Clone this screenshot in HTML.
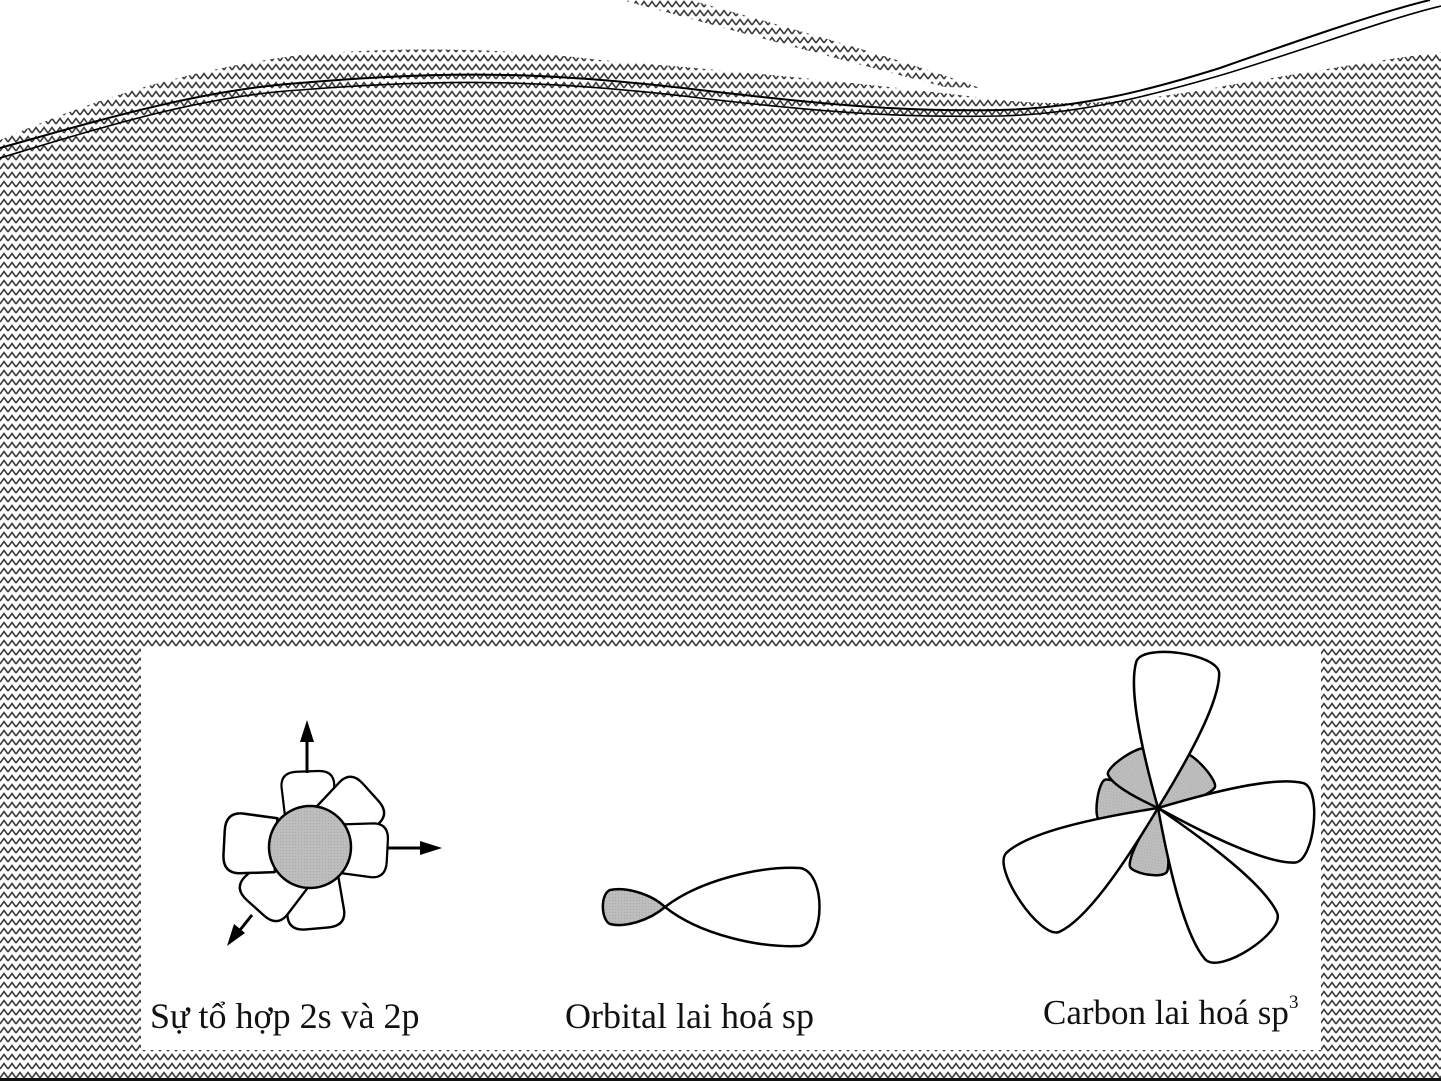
<!DOCTYPE html>
<html><head><meta charset="utf-8"><style>
html,body{margin:0;padding:0;background:#fff;}
svg{display:block}
text{font-family:"Liberation Serif",serif;fill:#111}
</style></head><body>
<svg width="1441" height="1081" viewBox="0 0 1441 1081" xmlns="http://www.w3.org/2000/svg">
<defs>
<pattern id="zz" width="8" height="9" patternUnits="userSpaceOnUse">
<path d="M0,7 L4,1.5 L8,7" fill="none" stroke="#3c3c3c" stroke-width="1.6"/>
</pattern>
<pattern id="dots" width="3" height="3" patternUnits="userSpaceOnUse">
<rect width="3" height="3" fill="#bdbdbd"/><rect width="1" height="1" fill="#a8a8a8"/>
</pattern>
<path id="pt" d="M34,-27 L70,-30 Q86,-30 86,-12 L86,12 Q86,30 70,30 L34,27 Z"/>
</defs>
<rect width="1441" height="1081" fill="#fff"/>
<path d="M0,140 C60,115 150,75 300,55 C420,45 520,50 600,60 C750,72 880,85 1000,100 C1080,108 1150,100 1230,85 C1320,70 1380,60 1441,52 L1441,1081 L0,1081 Z" fill="url(#zz)"/>
<path d="M622,0 L690,0 C760,20 880,52 980,88 L945,87 C860,65 760,38 622,0 Z" fill="url(#zz)"/>
<path d="M0,148 C100,120 200,90 300,83 C450,70 550,72 700,90 C820,104 900,112 1000,110 C1080,108 1150,90 1220,68 C1300,40 1380,12 1430,0" fill="none" stroke="#000" stroke-width="2"/>
<path d="M0,158 C100,128 200,96 300,90 C450,78 550,80 700,98 C820,112 900,118 1000,116 C1080,114 1150,96 1225,74 C1310,48 1390,18 1441,6" fill="none" stroke="#000" stroke-width="1.6"/>
<rect x="141" y="647" width="1180" height="403" fill="#fff"/>
<rect x="0" y="1078" width="1441" height="3" fill="#111"/>

<!-- flower -->
<g stroke="#000" stroke-width="2.5" fill="#fff" stroke-linejoin="round">
<g transform="translate(310,847)">
<use href="#pt" transform="rotate(-92) scale(0.88)"/>
<use href="#pt" transform="rotate(-42) scale(0.95)"/>
<use href="#pt" transform="rotate(3) scale(0.9)"/>
<use href="#pt" transform="rotate(85) scale(0.95)"/>
<use href="#pt" transform="rotate(132) scale(0.95)"/>
<use href="#pt" transform="rotate(183) scale(1.0)"/>
<circle r="41" fill="url(#dots)"/>
</g>
</g>
<g stroke="#000" stroke-width="3" fill="#000">
<line x1="307" y1="773" x2="307" y2="735"/>
<polygon points="307,720 300,742 314,742" stroke="none"/>
<line x1="387" y1="848" x2="425" y2="848"/>
<polygon points="442,848 420,841 420,855" stroke="none"/>
<line x1="252" y1="915" x2="236" y2="935"/>
<polygon points="227,946 234,924 245,933" stroke="none"/>
</g>

<!-- sp orbital -->
<g stroke="#000" stroke-width="2.5" stroke-linejoin="round">
<path d="M665,907 C650,893 625,887 610,890 C600,894 601,920 610,924 C625,928 650,920 665,907 Z" fill="url(#dots)"/>
<path d="M665,907 C700,880 760,866 800,868 C826,872 826,942 800,946 C760,948 700,935 665,907 Z" fill="#fff"/>
</g>

<!-- sp3 -->
<g stroke="#000" stroke-width="2.5" stroke-linejoin="round" transform="translate(1158,808)">
<g fill="url(#dots)">
<path transform="rotate(188)" d="M0,0 C21.7,-12.1 44.6,-23.1 55.8,-20.9 C63.2,-18.7 63.2,18.7 55.8,20.9 C44.6,23.1 21.7,12.1 0,0 Z"/>
<path transform="rotate(-124)" d="M0,0 C21.7,-13.2 44.6,-25.2 55.8,-22.8 C63.2,-20.4 63.2,20.4 55.8,22.8 C44.6,25.2 21.7,13.2 0,0 Z"/>
<path transform="rotate(-42)" d="M0,0 C21.7,-13.2 44.6,-25.2 55.8,-22.8 C63.2,-20.4 63.2,20.4 55.8,22.8 C44.6,25.2 21.7,13.2 0,0 Z"/>
<path transform="rotate(99)" d="M0,0 C23.8,-11 49,-21 61.2,-19 C69.4,-17 69.4,17 61.2,19 C49,21 23.8,11 0,0 Z"/>
</g>
<g fill="#fff">
<path transform="rotate(-82)" d="M0,0 C55.3,-24.2 113.8,-46.2 142.2,-41.8 C161.2,-37.4 161.2,37.4 142.2,41.8 C113.8,46.2 55.3,24.2 0,0 Z"/>
<path transform="rotate(6)" d="M0,0 C55.3,-23.1 113.8,-44.1 142.2,-39.9 C161.2,-35.7 161.2,35.7 142.2,39.9 C113.8,44.1 55.3,23.1 0,0 Z"/>
<path transform="rotate(57)" d="M0,0 C59.5,-24.8 122.4,-47.3 153,-42.8 C173.4,-38.3 173.4,38.3 153,42.8 C122.4,47.3 59.5,24.8 0,0 Z"/>
<path transform="rotate(146)" d="M0,0 C58.8,-27.5 121,-52.5 151.2,-47.5 C171.4,-42.5 171.4,42.5 151.2,47.5 C121,52.5 58.8,27.5 0,0 Z"/>
</g>
</g>

<text x="150" y="1028" font-size="36">Sự tổ hợp 2s và 2p</text>
<text x="565" y="1028" font-size="36">Orbital lai hoá sp</text>
<text x="1043" y="1024" font-size="35">Carbon lai hoá sp<tspan font-size="19" dy="-16">3</tspan></text>
</svg>
</body></html>
